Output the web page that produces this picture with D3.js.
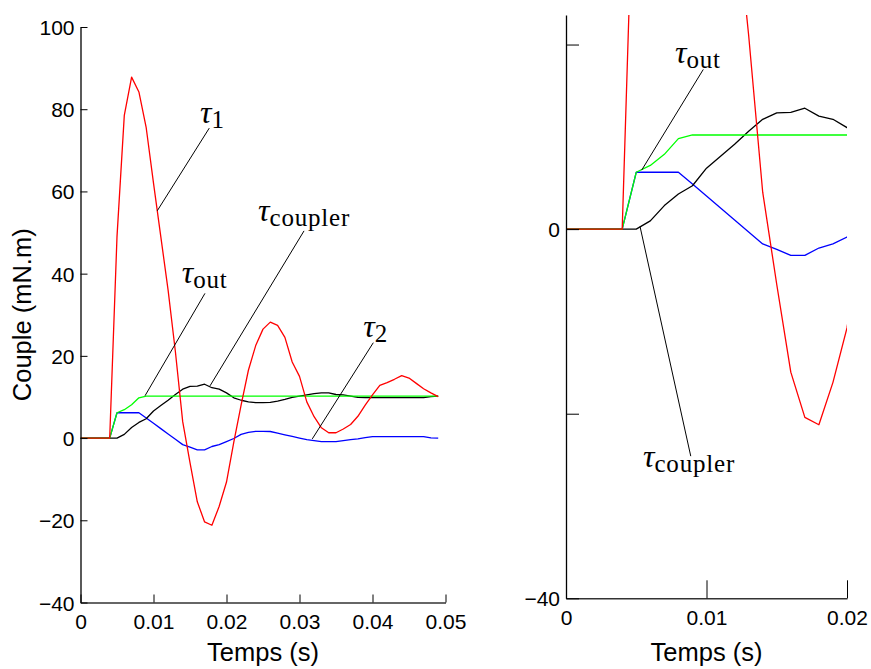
<!DOCTYPE html>
<html><head><meta charset="utf-8">
<script src="https://cdn.jsdelivr.net/npm/d3@7/dist/d3.min.js"></script>
<style>
body{margin:0;background:#fff;}
svg{display:block;}
</style></head>
<body>
<svg id="chart" width="871" height="669"></svg>
<script>
// ---- data ----
const times = [0,0.001,0.002,0.003,0.004,0.005,0.006,0.007,0.008,0.009,
  0.010,0.011,0.012,0.013,0.014,0.015,0.016,0.017,0.018,0.019,
  0.020,0.021,0.022,0.023,0.024,0.025,0.026,0.027,0.028,0.029,
  0.030,0.031,0.032,0.033,0.034,0.035,0.036,0.037,0.038,0.039,
  0.040,0.041,0.042,0.043,0.044,0.045,0.046,0.047,0.048,0.049];
const tau1 = [0,0,0,0,0,49,78.5,87.8,84.2,75.5,
  62,49,36,21,4,-6,-15.5,-20.4,-21.2,-16.6,
  -10.7,-1,8,16.5,22.5,26.5,28.2,27.4,24.5,18.5,
  15,8.8,5.2,2.5,1.3,1.3,2.2,3.3,5.3,8,
  10.5,12.8,13.5,14.3,15.2,14.6,13.3,12,11,10.1];
const tau2 = [0,0,0,0,0,6.16,6.16,6.16,6.16,4.9,
  3.6,2.3,1.0,-0.3,-1.6,-2.2,-2.85,-2.85,-2.05,-1.6,
  -0.86,-0.1,0.9,1.4,1.65,1.65,1.6,1.2,0.8,0.4,
  0,-0.4,-0.6,-0.85,-0.85,-0.85,-0.6,-0.4,-0.2,0.1,
  0.36,0.36,0.36,0.36,0.36,0.36,0.36,0.36,0.05,0];
const tauOut = [0,0,0,0,0,6.16,6.9,8.1,9.8,10.2,
  10.2,10.2,10.2,10.2,10.2,10.2,10.2,10.2,10.2,10.2,
  10.2,10.2,10.2,10.2,10.2,10.2,10.2,10.2,10.2,10.2,
  10.2,10.2,10.2,10.2,10.2,10.2,10.2,10.2,10.2,10.2,
  10.2,10.2,10.2,10.2,10.2,10.2,10.2,10.2,10.2,10.2];
const tauCoupler = [0,0,0,0,0,0,0.9,2.55,3.8,4.7,
  6.6,7.9,9.2,10.6,11.9,12.6,12.65,13.1,12.25,11.9,
  11.0,9.8,9.2,8.8,8.6,8.6,8.7,9.0,9.4,9.9,
  10.2,10.5,10.8,11.0,11.0,10.6,10.5,10.2,9.9,9.85,
  9.85,9.85,9.85,9.85,9.85,9.85,9.85,9.85,10.1,10.2];

const seriesNames = ["tau2","tauCoupler","tauOut","tau1"];
const seriesValues = [tau2, tauCoupler, tauOut, tau1];
const seriesColors = ["#0000ff","#000000","#00ff00","#ff0000"];

const leftXTicks = [0,0.01,0.02,0.03,0.04,0.05];
const leftXTickLabels = ["0","0.01","0.02","0.03","0.04","0.05"];
const leftYTicks = [-40,-20,0,20,40,60,80,100];
const leftYTickLabels = ["\u221240","\u221220","0","20","40","60","80","100"];
const rightXTicks = [0,0.01,0.02];
const rightXTickLabels = ["0","0.01","0.02"];
const rightYTicks = [-40,-20,0,20];
const rightYTickLabels = ["\u221240","","0",""];

const xLabel = "Temps (s)";
const yLabel = "Couple (mN.m)";

// annotations: label (sub) with anchor and leader line in data coords
const leftAnnotations = [
  {sub:"1", lx:0.01637, ly:76.6, x1:0.01764, y1:75.4, x2:0.01052, y2:55.3},
  {sub:"coupler", lx:0.02432, ly:52.8, x1:0.03062, y1:50.4, x2:0.01774, y2:12.7},
  {sub:"out", lx:0.01386, ly:37.7, x1:0.01705, y1:35.2, x2:0.00884, y2:10.3},
  {sub:"2", lx:0.03874, ly:24.6, x1:0.04011, y1:23.2, x2:0.03175, y2:-0.2}
];
const rightAnnotations = [
  {sub:"out", lx:0.00776, ly:18.0, x1:0.00977, y1:17.3, x2:0.00539, y2:6.4},
  {sub:"coupler", lx:0.00548, ly:-25.8, x1:0.00527, y1:0.28, x2:0.00888, y2:-24.6}
];

// ---- drawing ----
const svg = d3.select("#chart");
const tickFont = "Liberation Sans, Arial, sans-serif";
const mathFont = "Liberation Serif, Times New Roman, serif";

function panel(cfg){
  const x = d3.scaleLinear().domain(cfg.xDomain).range(cfg.xRange);
  const y = d3.scaleLinear().domain(cfg.yDomain).range(cfg.yRange);
  const g = svg.append("g");
  const clipId = "clip-" + cfg.id;
  svg.append("defs").append("clipPath").attr("id", clipId)
    .append("rect")
    .attr("x", cfg.xRange[0]).attr("y", cfg.yRange[1])
    .attr("width", cfg.xRange[1]-cfg.xRange[0])
    .attr("height", cfg.yRange[0]-cfg.yRange[1]);

  const line = d3.line().x((d,i)=>x(times[i])).y(d=>y(d));
  const lg = g.append("g").attr("clip-path", `url(#${clipId})`);
  seriesValues.forEach((vals,k)=>{
    lg.append("path").datum(vals)
      .attr("d", line)
      .attr("fill","none")
      .attr("stroke", seriesColors[k])
      .attr("stroke-width", 1.3)
      .attr("stroke-linejoin","round");
  });

  // axes
  const xAxis = d3.axisBottom(x).tickValues(cfg.xTicks)
    .tickFormat((d,i)=>cfg.xTickLabels[i]).tickSizeInner(-cfg.xTickLen).tickSizeOuter(0).tickPadding(0);
  const gx = g.append("g").attr("transform", `translate(0,${cfg.yRange[0]})`).call(xAxis);
  gx.select(".domain").attr("stroke","#333").attr("stroke-width",1.4);
  gx.selectAll(".tick line").attr("stroke","#000").attr("stroke-width",1);
  gx.selectAll(".tick text").attr("font-family", tickFont).attr("font-size", 21)
    .attr("fill","#000").attr("y", 12).attr("dy","0.71em");

  const yAxis = d3.axisLeft(y).tickValues(cfg.yTicks)
    .tickFormat((d,i)=>cfg.yTickLabels[i]).tickSizeInner(-cfg.yTickLen).tickSizeOuter(0).tickPadding(0);
  const gy = g.append("g").attr("transform", `translate(${cfg.xRange[0]},0)`).call(yAxis);
  gy.select(".domain").attr("stroke","#000").attr("stroke-width",1.3);
  gy.selectAll(".tick line").attr("stroke","#000").attr("stroke-width",1);
  gy.selectAll(".tick text").attr("font-family", tickFont).attr("font-size", 21)
    .attr("fill","#000").attr("x", -6).attr("dy","0.36em");

  // x label
  g.append("text").attr("x", (cfg.xRange[0]+cfg.xRange[1])/2).attr("y", 661)
    .attr("text-anchor","middle").attr("font-family", tickFont).attr("font-size", 25.5)
    .text(xLabel);
  if (cfg.showYLabel){
    g.append("text")
      .attr("transform", `translate(31,${(cfg.yRange[0]+cfg.yRange[1])/2}) rotate(-90)`)
      .attr("text-anchor","middle").attr("font-family", tickFont).attr("font-size", 25.5)
      .text(yLabel);
  }

  // annotations
  cfg.annotations.forEach(a=>{
    g.append("line")
      .attr("x1", x(a.x1)).attr("y1", y(a.y1))
      .attr("x2", x(a.x2)).attr("y2", y(a.y2))
      .attr("stroke","#000").attr("stroke-width",1);
    const t = g.append("text").attr("x", x(a.lx)).attr("y", y(a.ly))
      .attr("font-family", mathFont).attr("fill","#000");
    t.append("tspan").attr("font-style","italic").attr("font-size", 32).text("\u03C4");
    t.append("tspan").attr("font-size", 25).attr("letter-spacing", 0.8).attr("dy", 5).text(a.sub);
  });
}

panel({id:"left", xDomain:[0,0.05], xRange:[80.5,445.5], yDomain:[-40,100], yRange:[602.5,27],
  xTicks:leftXTicks, xTickLabels:leftXTickLabels, yTicks:leftYTicks, yTickLabels:leftYTickLabels,
  xTickLen:8, yTickLen:7, showYLabel:true, annotations:leftAnnotations});
panel({id:"right", xDomain:[0,0.02], xRange:[566,847], yDomain:[-40,23.2], yRange:[598.3,15],
  xTicks:rightXTicks, xTickLabels:rightXTickLabels, yTicks:rightYTicks, yTickLabels:rightYTickLabels,
  xTickLen:18, yTickLen:13, showYLabel:false, annotations:rightAnnotations});
</script>
</body></html>
